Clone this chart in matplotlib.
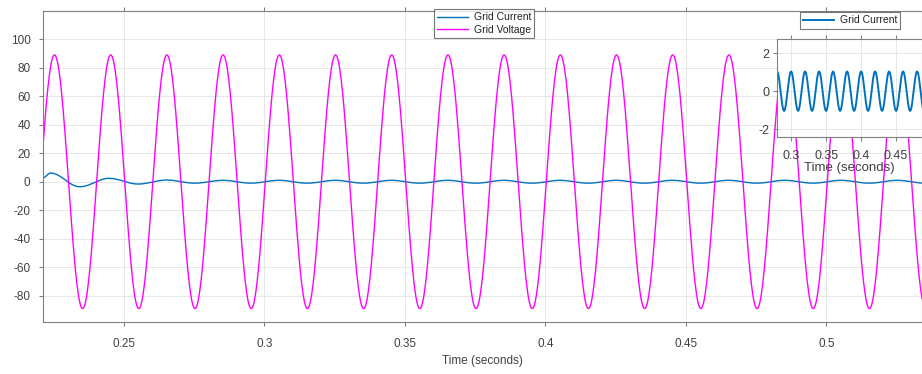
import matplotlib as mpl
mpl.use('Agg')
import matplotlib.pyplot as plt
import numpy as np

# extrema (time in s, value)
volt_t = [0.2153, 0.2253, 0.2353, 0.2453, 0.2553, 0.2653, 0.2753, 0.2853, 0.2953, 0.3053,
          0.3153, 0.3253, 0.3353, 0.3453, 0.3553, 0.3653, 0.3753, 0.3853, 0.3953, 0.4053,
          0.4153, 0.4253, 0.4353, 0.4453, 0.4553, 0.4653, 0.4753, 0.4853, 0.4953, 0.5053,
          0.5153, 0.5253, 0.5353]
volt_v = [-89, 89, -89, 89, -89, 89, -89, 89, -89, 89,
          -89, 89, -89, 89, -89, 89, -89, 89, -89, 89,
          -89, 89, -89, 89, -89, 89, -89, 89, -89, 89,
          -89, 89, -89]

cur_t = [0.2212, 0.2239, 0.2343, 0.2447, 0.2550, 0.2652, 0.2752, 0.2852, 0.2952, 0.3052,
         0.3152, 0.3252, 0.3352, 0.3452, 0.3552, 0.3652, 0.3752, 0.3852, 0.3952, 0.4052,
         0.4152, 0.4252, 0.4352, 0.4452, 0.4552, 0.4652, 0.4752, 0.4852, 0.4952, 0.5052,
         0.5152, 0.5252, 0.5352]
cur_v = [2.8, 6.1, -3.5, 2.4, -1.6, 1.2, -1.0, 1.0, -1.0, 1.0,
         -1.0, 1.0, -1.0, 1.0, -1.0, 1.0, -1.0, 1.0, -1.0, 1.0,
         -1.0, 1.0, -1.0, 1.0, -1.0, 1.0, -1.0, 1.0, -1.0, 1.0,
         -1.0, 1.0, -1.0]

# zoomed current shown in the inset
ins_t = [0.28, 0.29, 0.30, 0.31, 0.32, 0.33, 0.34, 0.35, 0.36, 0.37, 0.38,
         0.39, 0.40, 0.41, 0.42, 0.43, 0.44, 0.45, 0.46, 0.47, 0.48, 0.49]
ins_v = [1.04, -1.03, 1.04, -1.03, 1.04, -1.03, 1.04, -1.03, 1.04, -1.03, 1.04,
         -1.03, 1.04, -1.03, 1.04, -1.03, 1.04, -1.03, 1.04, -1.03, 1.04, -1.03]

main_xticks = [0.25, 0.3, 0.35, 0.4, 0.45, 0.5]
main_yticks = [-80, -60, -40, -20, 0, 20, 40, 60, 80, 100]
ins_xticks = [0.3, 0.35, 0.4, 0.45]
ins_yticks = [-2, 0, 2]


def smooth(times, values, n=40):
    # half-cosine between neighbouring extrema
    tt, vv = [], []
    for i in range(len(times) - 1):
        s = np.linspace(0, 1, n)
        tt.append(times[i] + (times[i + 1] - times[i]) * s)
        vv.append(values[i] + (values[i + 1] - values[i]) * (1 - np.cos(np.pi * s)) / 2)
    return np.concatenate(tt), np.concatenate(vv)


plt.rcParams['font.family'] = ['Liberation Sans', 'DejaVu Sans']
plt.rcParams['axes.unicode_minus'] = False

BLUE = '#0072BD'
MAGENTA = '#FF00FF'
TXT = '#404040'
EDGE = '#808080'

fig = plt.figure(figsize=(9.22, 3.74), dpi=100)
ax = fig.add_axes([0.0466, 0.1398, 0.9534, 0.8308])

t1, v1 = smooth(cur_t, cur_v)
t2, v2 = smooth(volt_t, volt_v)
ax.plot(t1, v1, color=BLUE, lw=1.0, label='Grid Current')
ax.plot(t2, v2, color=MAGENTA, lw=1.0, label='Grid Voltage')

ax.set_xlim(0.2212, 0.534)
ax.set_ylim(-98.2, 119.8)
ax.set_xticks(main_xticks)
ax.set_xticklabels(['0.25', '0.3', '0.35', '0.4', '0.45', '0.5'])
ax.set_yticks(main_yticks)
ax.grid(True, color='#e3e3e3', lw=0.6)
ax.set_axisbelow(True)
ax.tick_params(direction='out', length=3, width=0.8, colors=EDGE, labelcolor=TXT,
               labelsize=8.5, top=True, right=True)
ax.tick_params(axis='x', pad=9)
ax.tick_params(axis='y', pad=6)
for s in ax.spines.values():
    s.set_color(EDGE)
    s.set_linewidth(0.8)
ax.set_xlabel('Time (seconds)', fontsize=8.5, color=TXT, labelpad=3)

leg = ax.legend(loc='upper center', bbox_to_anchor=(484 / 922, 1 - 9.3 / 374),
                bbox_transform=fig.transFigure, fontsize=7.5, frameon=True,
                fancybox=False, edgecolor='#555555', handlelength=3.0,
                borderpad=0.3, labelspacing=0.2, handletextpad=0.5, borderaxespad=0)
leg.get_frame().set_linewidth(0.8)
for t in leg.get_texts():
    t.set_color('#222222')

# inset
axi = fig.add_axes([0.8431, 0.6329, 0.1569, 0.2628])
t3, v3 = smooth(ins_t, ins_v)
axi.plot(t3, v3, color=BLUE, lw=1.4, label='Grid Current')
axi.set_xlim(0.2804, 0.487)
axi.set_ylim(-2.42, 2.75)
axi.set_xticks(ins_xticks)
axi.set_xticklabels(['0.3', '0.35', '0.4', '0.45'])
axi.set_yticks(ins_yticks)
axi.grid(True, color='#e3e3e3', lw=0.6)
axi.set_axisbelow(True)
axi.tick_params(direction='out', length=3, width=0.8, colors=EDGE, labelcolor=TXT,
                labelsize=9, top=True, right=True)
axi.tick_params(axis='x', pad=6)
axi.tick_params(axis='y', pad=3)
for s in axi.spines.values():
    s.set_color(EDGE)
    s.set_linewidth(0.8)
axi.set_xlabel('Time (seconds)', fontsize=9.5, color=TXT, labelpad=0)

leg2 = axi.legend(loc='upper center', bbox_to_anchor=(850 / 922, 1 - 12.3 / 374),
                  bbox_transform=fig.transFigure, fontsize=7.5, frameon=True,
                  fancybox=False, edgecolor='#555555', handlelength=3.0,
                  borderpad=0.3, handletextpad=0.5, borderaxespad=0)
leg2.get_frame().set_linewidth(0.8)
for t in leg2.get_texts():
    t.set_color('#222222')

fig.savefig('out.png', dpi=100, facecolor='white')
